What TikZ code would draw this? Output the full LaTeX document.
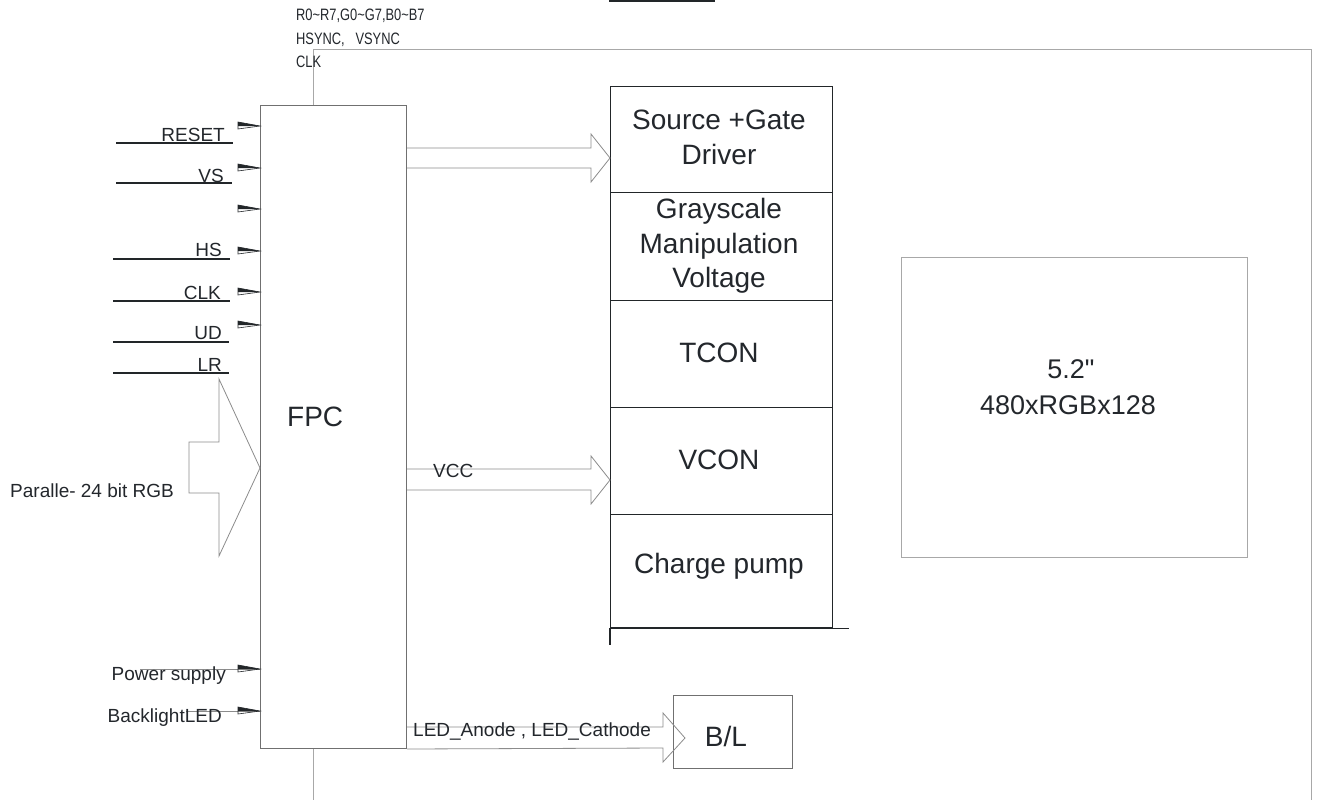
\documentclass[tikz,border=0pt]{standalone}
\usepackage{fontspec}
\setmainfont{Liberation Sans}
\newfontfamily\condfont[FakeStretch=0.78]{Liberation Sans}
\usetikzlibrary{calc}
\definecolor{txt}{HTML}{23272C}
\definecolor{dark}{HTML}{222629}
\definecolor{framec}{HTML}{A8A8A8}
\definecolor{fpcc}{HTML}{707070}
\definecolor{arrc}{HTML}{8C8C8C}
\newcommand\inarr[2]{%
  \coordinate (#1) at (fpc.west |- 0,#2);
  \fill[dark] (#1) -- ([xshift=-22pt,yshift=4pt]#1) -- ([xshift=-22pt,yshift=0pt]#1) -- cycle;
  \draw[dark, line width=0.6pt, line join=miter] (#1) -- ([xshift=-22pt,yshift=4pt]#1) -- ([xshift=-22pt,yshift=-3pt]#1) -- cycle;
}
\begin{document}
\begin{tikzpicture}[x=1pt,y=-1pt,
  lbl/.style={inner sep=0pt, text=txt, font=\fontsize{19}{22}\selectfont},
  biglbl/.style={inner sep=0pt, text=txt, font=\fontsize{28}{34}\selectfont},
  toplbl/.style={inner sep=0pt, text=txt, font=\condfont\fontsize{16.5}{20}\selectfont},
  uline/.style={line width=1.8pt, draw=dark},
  stackbox/.style={draw=dark, line width=1.2pt, inner sep=0pt, minimum width=222pt, anchor=north west},
  hollow/.style={draw=arrc, line width=0.8pt, line join=miter},
  shaft/.style={draw=arrc, line width=0.8pt}
]
\useasboundingbox (0,0) rectangle (1317,800);
\fill[white] (0,0) rectangle (1317,800);

% top black bar (cut off at the top edge)
\fill[dark] (609,0) rectangle (715,2.5);

% outer module frame
\draw[framec, line width=1pt] (313,812) -- (313,50) -- (1311,50) -- (1311,812);

% top signal texts
\node[toplbl, anchor=base west] (t1) at (296,21) {R0\textasciitilde R7,G0\textasciitilde G7,B0\textasciitilde B7};
\node[toplbl, anchor=base west] (t2) at (296,45) {HSYNC,\ \ \ VSYNC};
\node[toplbl, anchor=base west] (t3) at (296,67) {CLK};

% FPC
\node[draw=fpcc, fill=white, line width=1pt, minimum width=146pt, minimum height=643pt, inner sep=0pt, anchor=north west] (fpc) at (260,105) {};
\node[biglbl, anchor=base west] (fpct) at (287,426) {FPC};

% left input labels and underlines
\node[lbl, anchor=base east] (lreset) at (225,141) {RESET};
\node[lbl, anchor=base east] (lvs) at (224,182) {VS};
\node[lbl, anchor=base east] (lhs) at (222,256) {HS};
\node[lbl, anchor=base east] (lclk) at (221,299) {CLK};
\node[lbl, anchor=base east] (lud) at (222,339) {UD};
\node[lbl, anchor=base east] (llr) at (222,371) {LR};
\draw[uline] (116,143) -- (233,143);
\draw[uline] (116,183) -- (232,183);
\draw[uline] (113,259) -- (230,259);
\draw[uline] (113,301) -- (230,301);
\draw[uline] (113,342) -- (229,342);
\draw[uline] (113,373) -- (229,373);

% small input arrow heads
\inarr{areset}{126}
\inarr{avs}{168}
\inarr{ablank}{209}
\inarr{ahs}{251}
\inarr{aclk}{292}
\inarr{aud}{325}

% power / backlight inputs
\coordinate (ps0) at (140,669);
\coordinate (bl0) at (186,711);
\draw[shaft] (ps0) -- (fpc.west |- ps0);
\draw[shaft] (bl0) -- (fpc.west |- bl0);
\node[lbl, anchor=base east] (lps) at (226,680) {Power supply};
\node[lbl, anchor=base east] (lbl) at (222,722) {BacklightLED};
\inarr{aps}{669}
\inarr{abl}{711}

% parallel RGB hollow arrow
\node[lbl, anchor=base west] (lrgb) at (10,497) {Paralle- 24 bit RGB};
\draw[hollow] (189,442) -- (219,442) -- (219,379) -- (fpc.west |- 0,468) -- (219,556) -- (219,493) -- (189,493) -- cycle;

% driver stack
\node[stackbox, minimum height=106pt] (src) at (610,86) {};
\node[stackbox, minimum height=108pt] (gray) at (610,192) {};
\node[stackbox, minimum height=107pt] (tcon) at (610,300) {};
\node[stackbox, minimum height=107pt] (vcon) at (610,407) {};
\node[stackbox, minimum height=113pt] (chg) at (610,514) {};
\draw[dark, line width=2.4pt] (chg.south west) -- (chg.south east);
\draw[dark, line width=1pt] (chg.south east) -- ++(16,0);
\draw[dark, line width=1.2pt] (chg.south west) -- ++(0,17);

\node[biglbl, anchor=base] (srct1) at (719,129) {Source +Gate};
\node[biglbl, anchor=base] (srct2) at (719,164) {Driver};
\node[biglbl, anchor=base] (grt1) at (719,218) {Grayscale};
\node[biglbl, anchor=base] (grt2) at (719,253) {Manipulation};
\node[biglbl, anchor=base] (grt3) at (719,287) {Voltage};
\node[biglbl, anchor=base] (tcont) at (719,362) {TCON};
\node[biglbl, anchor=base] (vcont) at (719,469) {VCON};
\node[biglbl, anchor=base] (chgt) at (719,573) {Charge pump};

% FPC -> Source+Gate driver hollow arrow
\draw[hollow] (fpc.east |- 0,148) -- (591,148) -- (591,134) -- (src.west |- 0,158) -- (591,182) -- (591,168) -- (fpc.east |- 0,168);

% FPC -> VCON hollow arrow (VCC)
\draw[hollow] (fpc.east |- 0,469) -- (591,469) -- (591,456) -- (vcon.west |- 0,480) -- (591,504) -- (591,490) -- (fpc.east |- 0,490);
\node[lbl, anchor=base west] (lvcc) at (433,477) {VCC};

% display panel
\node[draw=framec, line width=1pt, minimum width=346pt, minimum height=300pt, inner sep=0pt, anchor=north west] (disp) at (901,257) {};
\node[inner sep=0pt, text=txt, font=\fontsize{27}{33}\selectfont, anchor=base] (dt1) at (1071,378) {5.2\textquotedbl};
\node[inner sep=0pt, text=txt, font=\fontsize{27}{33}\selectfont, anchor=base] (dt2) at (1068,414) {480xRGBx128};

% backlight
\node[draw=fpcc, line width=1pt, minimum width=119pt, minimum height=73pt, inner sep=0pt, anchor=north west] (bl) at (673,695) {};
\node[biglbl, anchor=base] (blt) at (726,746) {B/L};
\draw[hollow] (fpc.east |- 0,727) -- (663,727) -- (663,713) -- ([xshift=12pt]bl.west |- 0,738) -- (663,762) -- (663,748) -- (fpc.south east);
\node[lbl, anchor=base west] (lled) at (413,736) {LED\_Anode , LED\_Cathode};
\end{tikzpicture}
\end{document}
